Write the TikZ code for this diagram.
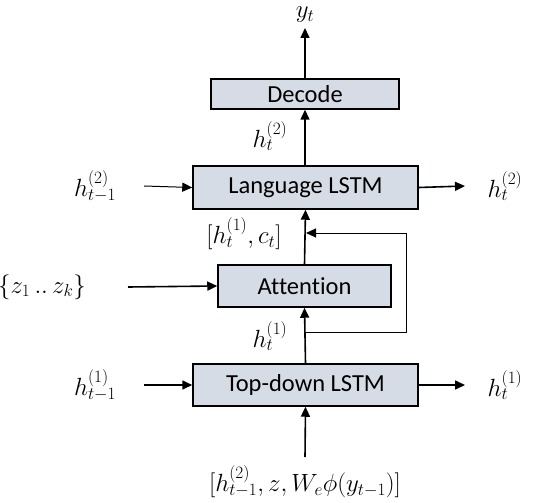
\documentclass[tikz,border=0pt]{standalone}
\usepackage{fontspec}
\setmainfont{Carlito}[Ligatures=NoCommon]
\usetikzlibrary{arrows.meta}
\definecolor{boxfill}{HTML}{D6DCE5}
\begin{document}
\begin{tikzpicture}[x=1pt,y=-1pt,
  blk/.style={draw=black,line width=1.5pt,fill=boxfill,inner sep=0pt,font=\fontsize{24.5}{28}\selectfont},
  lbl/.style={inner sep=0pt,font=\fontsize{26}{30}\selectfont},
  thick arrow/.style={line width=1.6pt,-{Triangle[length=10pt,width=9pt]}},
  thin arrow/.style={line width=1pt,-{Triangle[length=10pt,width=9pt]}}]
\useasboundingbox (0,0) rectangle (534,502);
% boxes
\node[blk,minimum width=188pt,minimum height=30pt] (dec) at (305,94) {Decode};
\node[blk,minimum width=225pt,minimum height=43pt] (lang) at (305.5,187.5) {Language LSTM};
\node[blk,minimum width=173pt,minimum height=42pt] (att) at (304.5,286) {Attention};
\node[blk,minimum width=225pt,minimum height=42pt] (td) at (305.5,385) {Top-down LSTM};
% labels
\node[lbl] (yt) at (305,15) {$y_t$};
\node[lbl] (h2a) at (270,136) {$h_t^{(2)}$};
\node[lbl] (h2l) at (95,186) {$h_{t-1}^{(2)}$};
\node[lbl] (h2r) at (505,186) {$h_t^{(2)}$};
\node[lbl] (hc) at (244,234) {$[h_t^{(1)},c_t]$};
\node[lbl] (zs) at (42,287) {$\{z_1\,..\,z_k\}$};
\node[lbl] (h1a) at (270,336) {$h_t^{(1)}$};
\node[lbl] (h1l) at (95,385) {$h_{t-1}^{(1)}$};
\node[lbl] (h1r) at (505,385) {$h_t^{(1)}$};
\node[lbl] (inp) at (305,482) {$[h_{t-1}^{(2)},z,W_e\phi(y_{t-1})]$};
% coordinates
\coordinate (ytend) at (305,28);
\coordinate (l2s) at (144,186);
\coordinate (r2e) at (465,186);
\coordinate (zss) at (128,287);
\coordinate (l1s) at (144,385);
\coordinate (r1e) at (465,385);
\coordinate (ins) at (305,457);
\coordinate (fb1) at (305,332);
\coordinate (fb2) at (406,332);
\coordinate (fb3) at (406,233);
\coordinate (fb4) at (306,233);
% connectors
\draw[thick arrow] (dec.north) -- (ytend);
\draw[thick arrow] (lang.north -| dec.south) -- (dec.south);
\draw[thick arrow] (att.north) -- (lang.south);
\draw[thick arrow] (td.north) -- (att.south);
\draw[thick arrow] (ins) -- (td.south);
\draw[thin arrow] (l2s) -- (lang.west);
\draw[thick arrow] (lang.east) -- (r2e);
\draw[thick arrow] (zss) -- (att.west);
\draw[thick arrow] (l1s) -- (td.west);
\draw[thick arrow] (td.east) -- (r1e);
\draw[thin arrow] (fb1) -- (fb2) -- (fb3) -- (fb4);
\end{tikzpicture}
\end{document}
